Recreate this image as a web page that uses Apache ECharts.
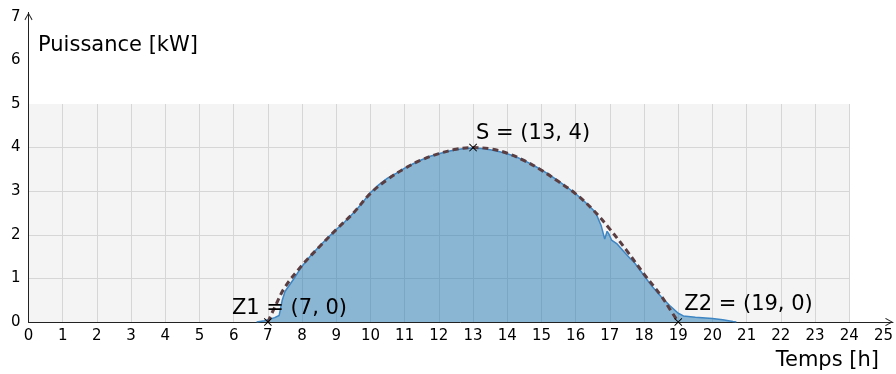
<!DOCTYPE html>
<html>
<head>
<meta charset="utf-8">
<script src="https://cdn.jsdelivr.net/npm/echarts@6/dist/echarts.min.js"></script>
<style>
  html, body { margin: 0; padding: 0; background: #fff; }
  #chart { width: 896px; height: 374px; }
</style>
</head>
<body>
<div id="chart"></div>
<script>
// mesure (zone bleue)
const timeMeasured = [6.67, 6.9, 7.0, 7.2, 7.33, 7.42, 7.5, 7.75, 8.0, 8.25, 8.5, 8.75, 9.0, 9.25, 9.5, 9.75,
  10.0, 10.25, 10.5, 10.75, 11.0, 11.25, 11.5, 11.75, 12.0, 12.25, 12.5, 12.75, 13.0, 13.25, 13.5, 13.75,
  14.0, 14.25, 14.5, 14.75, 15.0, 15.25, 15.5, 15.75, 16.0, 16.25, 16.5, 16.6, 16.75, 16.85, 16.92, 16.97,
  17.05, 17.2, 17.4, 17.6, 17.7, 17.85, 18.0, 18.25, 18.5, 18.75, 19.0, 19.15, 19.5, 20.0, 20.3, 20.6, 20.7];
const powerMeasured = [0, 0.03, 0.05, 0.1, 0.15, 0.5, 0.7, 0.98, 1.28, 1.52, 1.73, 1.93, 2.12, 2.3, 2.5, 2.72,
  2.97, 3.15, 3.3, 3.41, 3.53, 3.63, 3.72, 3.8, 3.86, 3.91, 3.95, 3.98, 3.99, 3.98, 3.95, 3.91,
  3.86, 3.79, 3.7, 3.6, 3.49, 3.37, 3.23, 3.09, 2.94, 2.77, 2.58, 2.48, 2.2, 1.9, 2.08, 2.02,
  1.88, 1.8, 1.62, 1.45, 1.38, 1.22, 1.06, 0.8, 0.58, 0.38, 0.2, 0.14, 0.11, 0.08, 0.05, 0.01, 0];

// modèle (pointillés)
const timeFit = [7, 7.25, 7.5, 8, 8.5, 9, 9.5, 10, 10.5, 11, 11.5, 12, 12.5, 13,
  13.5, 14, 14.5, 15, 15.5, 16, 16.5, 17, 17.5, 18, 18.5, 18.75, 19];
const powerFit = [0, 0.42, 0.8, 1.3, 1.72, 2.12, 2.5, 2.95, 3.27, 3.52, 3.72, 3.86, 3.96, 4.0,
  3.97, 3.87, 3.7, 3.48, 3.22, 2.94, 2.58, 2.13, 1.63, 1.1, 0.6, 0.3, 0];

// points remarquables
const pointNames = ['Z1', 'S', 'Z2'];
const pointX = [7, 13, 19];
const pointY = [0, 4, 0];
const pointOffsets = [[-36, -13], [3, -14], [6, -17]];

const FONT = 'DejaVu Sans';
const chart = echarts.init(document.getElementById('chart'));

const crossPath = 'path://M0,8 L8,0 L50,42 L92,0 L100,8 L58,50 L100,92 L92,100 L50,58 L8,100 L0,92 L42,50 Z';
const chevron = 'path://M50,0 L100,88 L90,96 L50,22 L10,96 L0,88 Z';

const intLabel = v => (Math.abs(v - Math.round(v)) < 1e-6 ? String(Math.round(v)) : '');

chart.setOption({
  animation: false,
  grid: [
    { left: 28.5, right: 3, top: 12.4, bottom: 52 },
    { left: 28.5, right: 46.7, top: 104, bottom: 52, show: true, backgroundColor: '#f4f4f4', borderWidth: 0 }
  ],
  xAxis: [
    {
      type: 'value', gridIndex: 0, min: 0, max: 25.28, interval: 1,
      axisLine: { lineStyle: { color: '#222', width: 1 }, symbol: ['none', chevron], symbolSize: [8, 9], symbolOffset: [0, -4] },
      axisTick: { show: false },
      splitLine: { show: false },
      axisLabel: { formatter: intLabel, color: '#000', fontFamily: FONT, fontSize: 15, margin: 7, showMaxLabel: false }
    },
    {
      type: 'value', gridIndex: 1, min: 0, max: 24, interval: 1,
      axisLine: { show: false }, axisTick: { show: false }, axisLabel: { show: false },
      splitLine: { lineStyle: { color: '#d6d6d6', width: 1 } }
    }
  ],
  yAxis: [
    {
      type: 'value', gridIndex: 0, min: 0, max: 7.1, interval: 1,
      axisLine: { show: true, lineStyle: { color: '#222', width: 1 }, symbol: ['none', chevron], symbolSize: [8, 9], symbolOffset: [0, -4] },
      axisTick: { show: false },
      splitLine: { show: false },
      axisLabel: { formatter: intLabel, color: '#000', fontFamily: FONT, fontSize: 15, margin: 8, showMaxLabel: false }
    },
    {
      type: 'value', gridIndex: 1, min: 0, max: 5, interval: 1,
      axisLine: { show: false }, axisTick: { show: false }, axisLabel: { show: false },
      splitLine: { showMaxLine: false, lineStyle: { color: '#d6d6d6', width: 1 } }
    }
  ],
  graphic: [
    { type: 'text', left: 38, top: 35, style: { text: 'Puissance [kW]', font: '21px "DejaVu Sans"', fill: '#000' } },
    { type: 'text', right: 17, top: 350, style: { text: 'Temps [h]', font: '21px "DejaVu Sans"', fill: '#000' } }
  ],
  series: [
    {
      name: 'Mesure',
      type: 'line',
      xAxisIndex: 0, yAxisIndex: 0,
      data: timeMeasured.map((t, i) => [t, powerMeasured[i]]),
      showSymbol: false,
      lineStyle: { color: '#3d86c3', width: 1.5 },
      areaStyle: { color: 'rgba(31,119,180,0.5)', opacity: 1, origin: 'start' },
      z: 2
    },
    {
      name: 'Modèle',
      type: 'line',
      xAxisIndex: 0, yAxisIndex: 0,
      data: timeFit.map((t, i) => [t, powerFit[i]]),
      smooth: 0.4,
      showSymbol: false,
      lineStyle: { color: '#5a3e42', width: 3, type: [6, 4] },
      z: 3
    },
    {
      name: 'Points',
      type: 'scatter',
      xAxisIndex: 0, yAxisIndex: 0,
      symbol: crossPath,
      symbolSize: 8,
      itemStyle: { color: '#000', opacity: 1 },
      data: pointNames.map((n, i) => ({
        value: [pointX[i], pointY[i]],
        label: {
          show: true,
          position: 'inside',
          align: 'left',
          verticalAlign: 'middle',
          offset: pointOffsets[i],
          formatter: n + ' = (' + pointX[i] + ', ' + pointY[i] + ')',
          color: '#000',
          opacity: 1,
          textBorderWidth: 0,
          fontFamily: FONT,
          fontSize: 21
        }
      })),
      z: 5
    }
  ]
});
</script>
</body>
</html>
